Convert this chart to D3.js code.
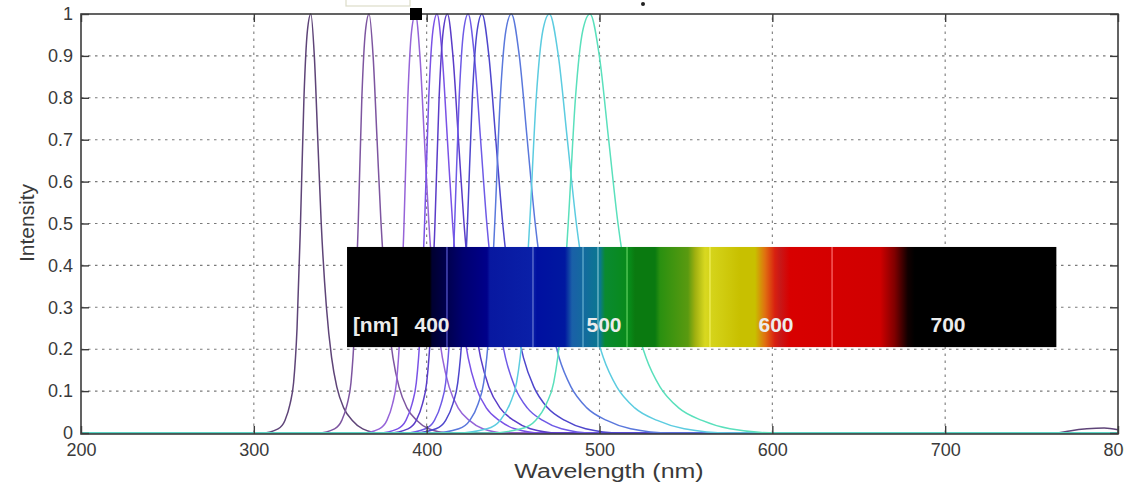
<!DOCTYPE html>
<html>
<head>
<meta charset="utf-8">
<script src="https://cdn.jsdelivr.net/npm/d3@7/dist/d3.min.js"></script>
<style>
body { margin: 0; background: #fff; }
text { font-family: "Liberation Sans", Arial, sans-serif; }
</style>
</head>
<body>
<svg></svg>
<script>
const width = 1140;
const height = 489;

// tick values
const xTicks = [200, 300, 400, 500, 600, 700, 800];
const yTicks = [0, 0.1, 0.2, 0.3, 0.4, 0.5, 0.6, 0.7, 0.8, 0.9, 1];

// emission curves, [wavelength nm, intensity]
const s1 = [[200,0],[305,0],[314,0.01],[318,0.03],[321,0.07],[323,0.12],[325,0.25],[327,0.5],[329,0.8],[331,0.96],[333,1],[335,0.9],[337,0.7],[339,0.5],[342,0.3],[345,0.18],[348,0.11],[352,0.06],[357,0.03],[363,0.01],[373,0],[765,0],[772,0.005],[782,0.01],[792,0.012],[800,0.008]];
const s2 = [[200,0],[337.3,0],[346.7,0.01],[350.9,0.03],[354.1,0.07],[356.2,0.12],[358.3,0.25],[360.4,0.5],[362.5,0.8],[364.6,0.96],[366.7,1],[369,0.9],[371.3,0.7],[373.6,0.5],[377.1,0.3],[380.5,0.18],[384,0.11],[388.6,0.06],[394.3,0.03],[401.2,0.01],[412.7,0],[800,0]];
const s3 = [[200,0],[362.7,0],[372.6,0.01],[377,0.03],[380.3,0.07],[382.5,0.12],[384.7,0.25],[386.9,0.5],[389.1,0.8],[391.3,0.96],[393.5,1],[396.1,0.9],[398.7,0.7],[401.3,0.5],[405.2,0.3],[409.1,0.18],[413,0.11],[418.2,0.06],[424.7,0.03],[432.5,0.01],[445.5,0],[800,0]];
const s4 = [[200,0],[372.4,0],[383.2,0.01],[388,0.03],[391.6,0.07],[394,0.12],[396.4,0.25],[398.8,0.5],[401.2,0.8],[403.6,0.96],[406,1],[409,0.9],[412,0.7],[415,0.5],[419.5,0.3],[424,0.18],[428.5,0.11],[434.5,0.06],[442,0.03],[451,0.01],[466,0],[800,0]];
const s5 = [[200,0],[378.4,0],[389.2,0.01],[394,0.03],[397.6,0.07],[400,0.12],[402.4,0.25],[404.8,0.5],[407.2,0.8],[409.6,0.96],[412,1],[415.2,0.9],[418.4,0.7],[421.6,0.5],[426.4,0.3],[431.2,0.18],[436,0.11],[442.4,0.06],[450.4,0.03],[460,0.01],[476,0],[800,0]];
const s6 = [[200,0],[387.6,0],[399.3,0.01],[404.5,0.03],[408.4,0.07],[411,0.12],[413.6,0.25],[416.2,0.5],[418.8,0.8],[421.4,0.96],[424,1],[427.6,0.9],[431.2,0.7],[434.8,0.5],[440.2,0.3],[445.6,0.18],[451,0.11],[458.2,0.06],[467.2,0.03],[478,0.01],[496,0],[800,0]];
const s7 = [[200,0],[392.8,0],[405.4,0.01],[411,0.03],[415.2,0.07],[418,0.12],[420.8,0.25],[423.6,0.5],[426.4,0.8],[429.2,0.96],[432,1],[436,0.9],[440,0.7],[444,0.5],[450,0.3],[456,0.18],[462,0.11],[470,0.06],[480,0.03],[492,0.01],[512,0],[800,0]];
const s8 = [[200,0],[404.2,0],[418.6,0.01],[425,0.03],[429.8,0.07],[433,0.12],[436.2,0.25],[439.4,0.5],[442.6,0.8],[445.8,0.96],[449,1],[453.6,0.9],[458.2,0.7],[462.8,0.5],[469.7,0.3],[476.6,0.18],[483.5,0.11],[492.7,0.06],[504.2,0.03],[518,0.01],[541,0],[800,0]];
const s9 = [[200,0],[417.8,0],[434.9,0.01],[442.5,0.03],[448.2,0.07],[452,0.12],[455.8,0.25],[459.6,0.5],[463.4,0.8],[467.2,0.96],[471,1],[476.2,0.9],[481.4,0.7],[486.6,0.5],[494.4,0.3],[502.2,0.18],[510,0.11],[520.4,0.06],[533.4,0.03],[549,0.01],[575,0],[800,0]];
const s10 = [[200,0],[435.7,0],[454.6,0.01],[463,0.03],[469.3,0.07],[473.5,0.12],[477.7,0.25],[481.9,0.5],[486.1,0.8],[490.3,0.96],[494.5,1],[499.9,0.9],[505.3,0.7],[510.7,0.5],[518.8,0.3],[526.9,0.18],[535,0.11],[545.8,0.06],[559.3,0.03],[575.5,0.01],[602.5,0],[800,0]];

const allSeries = [s1, s2, s3, s4, s5, s6, s7, s8, s9, s10];
const seriesColors = ["#5e4478", "#7d55a0", "#9664d8", "#7a52e6", "#5a3cc8", "#6e5ae6", "#4e46cc", "#5a78dc", "#5ccce0", "#5ae0bc"];

// visible spectrum strip (inset picture), colour stops by wavelength
const spectrumStops = [[350.6,"#000000"],[398.8,"#000000"],[400,"#000030"],[407.6,"#00004a"],[418,"#000070"],[432,"#00008a"],[433.7,"#0818a0"],[458.7,"#0a20a8"],[461,"#0010a0"],[477.3,"#0018a0"],[481.4,"#1a60a8"],[497.7,"#0a7890"],[500.6,"#0a8a30"],[515,"#088a18"],[518,"#0a7a10"],[529.7,"#0a7a10"],[532.6,"#2a9010"],[548.8,"#5a9a10"],[553,"#a0b010"],[558.7,"#d8d820"],[579,"#c8c000"],[587.8,"#c8c000"],[593.6,"#e07010"],[599.4,"#d82010"],[602.3,"#c81818"],[608,"#d80000"],[660.5,"#d00000"],[669,"#800000"],[676.7,"#100000"],[680.7,"#000000"],[763,"#000000"]];
const spectrumLines = [[408.7,"#5a5ad0"],[458.7,"#6a7ad0"],[487.8,"#6ab0d0"],[496.5,"#80c0d0"],[513.4,"#60d060"],[561.6,"#f0f060"],[632.6,"#ff7070"]];
const spectrumLabels = ["[nm]", "400", "500", "600", "700"];
const spectrumLabelNm = [354, 400, 500, 600, 700];

const x = d3.scaleLinear().domain([200, 800]).range([81, 1118]);
const y = d3.scaleLinear().domain([0, 1]).range([433, 14]);

const svg = d3.select("svg")
    .attr("width", width)
    .attr("height", height);

const defs = svg.append("defs");

// grid
const grid = svg.append("g")
    .attr("stroke", "#7a7a7a")
    .attr("stroke-width", 1.1)
    .attr("stroke-dasharray", "2.5,4.5");

grid.selectAll(".vgrid")
    .data(xTicks.slice(1, -1))
    .enter().append("line")
    .attr("x1", d => x(d)).attr("x2", d => x(d))
    .attr("y1", y(0)).attr("y2", y(1));

grid.selectAll(".hgrid")
    .data(yTicks.slice(1, -1))
    .enter().append("line")
    .attr("x1", x(200)).attr("x2", x(800))
    .attr("y1", d => y(d)).attr("y2", d => y(d));

// curves
const line = d3.line()
    .x(d => x(d[0]))
    .y(d => y(d[1]))
    .curve(d3.curveMonotoneX);

svg.append("g")
    .selectAll("path")
    .data(allSeries)
    .enter().append("path")
    .attr("d", line)
    .attr("fill", "none")
    .attr("stroke", (d, i) => seriesColors[i])
    .attr("stroke-width", 1.5)
    .attr("stroke-linejoin", "round");

// spectrum inset, it has its own nm scale
const sx = d3.scaleLinear().domain([400, 700]).range([432, 948]);
const insetLeft = sx(350.6);
const insetRight = sx(763);
const insetTop = y(0.444);
const insetBottom = y(0.205);

const grad = defs.append("linearGradient")
    .attr("id", "spectrum")
    .attr("gradientUnits", "userSpaceOnUse")
    .attr("x1", insetLeft).attr("x2", insetRight)
    .attr("y1", 0).attr("y2", 0);

grad.selectAll("stop")
    .data(spectrumStops)
    .enter().append("stop")
    .attr("offset", d => (sx(d[0]) - insetLeft) / (insetRight - insetLeft))
    .attr("stop-color", d => d[1]);

const inset = svg.append("g");

inset.append("rect")
    .attr("x", insetLeft)
    .attr("y", insetTop)
    .attr("width", insetRight - insetLeft)
    .attr("height", insetBottom - insetTop)
    .attr("fill", "url(#spectrum)");

inset.selectAll(".sline")
    .data(spectrumLines)
    .enter().append("rect")
    .attr("x", d => sx(d[0]) - 0.8)
    .attr("y", insetTop)
    .attr("width", 1.6)
    .attr("height", insetBottom - insetTop)
    .attr("fill", d => d[1])
    .attr("opacity", 0.75);

inset.selectAll(".slabel")
    .data(spectrumLabels)
    .enter().append("text")
    .attr("x", (d, i) => sx(spectrumLabelNm[i]))
    .attr("y", 332)
    .attr("text-anchor", (d, i) => i === 0 ? "start" : "middle")
    .attr("fill", "#ececec")
    .style("font-size", "21px")
    .style("font-weight", "bold")
    .text(d => d);

// axes box
svg.append("rect")
    .attr("x", x(200))
    .attr("y", y(1))
    .attr("width", x(800) - x(200))
    .attr("height", y(0) - y(1) + 1)
    .attr("fill", "none")
    .attr("stroke", "#3c3c3c")
    .attr("stroke-width", 1.6);

function styleAxis(g) {
    g.select(".domain").remove();
    g.selectAll(".tick line").attr("stroke", "#3c3c3c").attr("stroke-width", 1.4);
    g.selectAll(".tick text")
        .attr("fill", "#3a3a3a")
        .style("font-size", "18px")
        .style("font-family", "'Liberation Sans', Arial, sans-serif");
}

defs.append("clipPath")
    .attr("id", "edge")
    .append("rect")
    .attr("x", 0).attr("y", -20)
    .attr("width", 1124).attr("height", 80);

svg.append("g")
    .attr("transform", `translate(0,${y(0) + 1})`)
    .attr("clip-path", "url(#edge)")
    .call(d3.axisBottom(x).tickValues(xTicks).tickSize(-8).tickPadding(9).tickFormat(d3.format("d")))
    .call(styleAxis);

svg.append("g")
    .attr("transform", `translate(0,${y(1)})`)
    .call(d3.axisTop(x).tickValues(xTicks).tickSize(-8).tickFormat(""))
    .call(styleAxis);

svg.append("g")
    .attr("transform", `translate(${x(200)},0)`)
    .call(d3.axisLeft(y).tickValues(yTicks).tickSize(-8).tickPadding(8).tickFormat(d => String(+d.toFixed(1))))
    .call(styleAxis);

svg.append("g")
    .attr("transform", `translate(${x(800)},0)`)
    .call(d3.axisRight(y).tickValues(yTicks).tickSize(-8).tickFormat(""))
    .call(styleAxis);

// axis labels
svg.append("text")
    .attr("transform", "translate(609,478) scale(1.25,1)")
    .attr("text-anchor", "middle")
    .attr("fill", "#3a3a3a")
    .style("font-size", "20px")
    .text("Wavelength (nm)");

svg.append("text")
    .attr("transform", "translate(34,223) rotate(-90)")
    .attr("text-anchor", "middle")
    .attr("fill", "#3a3a3a")
    .style("font-size", "21px")
    .text("Intensity");

// bits of a cut-off legend above the axes
svg.append("rect")
    .attr("x", 346).attr("y", -6)
    .attr("width", 64).attr("height", 12)
    .attr("fill", "none")
    .attr("stroke", "#dcdcc8")
    .attr("stroke-width", 1.2);

svg.append("rect")
    .attr("x", 410).attr("y", 8)
    .attr("width", 12).attr("height", 12)
    .attr("fill", "#000");

svg.append("circle")
    .attr("cx", 643).attr("cy", 4)
    .attr("r", 2)
    .attr("fill", "#222");
</script>
</body>
</html>
